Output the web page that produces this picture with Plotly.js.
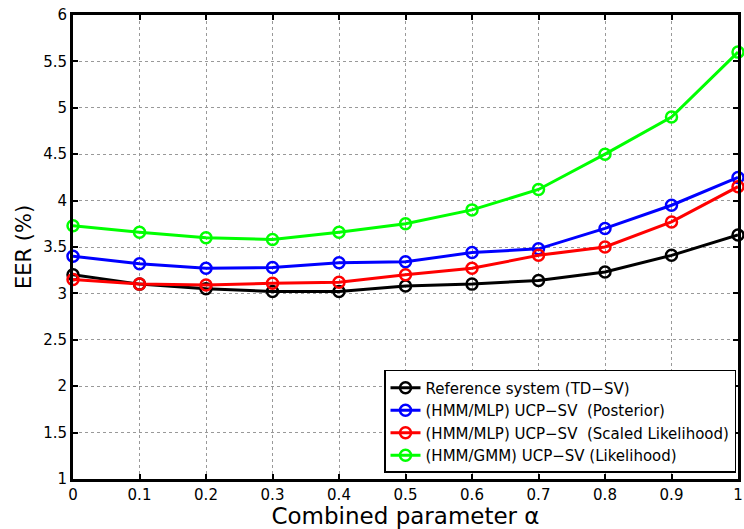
<!DOCTYPE html>
<html>
<head>
<meta charset="utf-8">
<script src="https://cdn.plot.ly/plotly-3.0.1.min.js"></script>
<style>html,body{margin:0;padding:0;background:#fff}#chart{width:744px;height:529px}</style>
</head>
<body>
<div id="chart"></div>
<script>
const alpha = [0, 0.1, 0.2, 0.3, 0.4, 0.5, 0.6, 0.7, 0.8, 0.9, 1.0];
const tickLabelsX = ["0","0.1","0.2","0.3","0.4","0.5","0.6","0.7","0.8","0.9","1"];
const tickValsY = [1, 1.5, 2, 2.5, 3, 3.5, 4, 4.5, 5, 5.5, 6];
const tickLabelsY = ["1","1.5","2","2.5","3","3.5","4","4.5","5","5.5","6"];

const refTDSV      = [3.20, 3.10, 3.05, 3.02, 3.02, 3.08, 3.10, 3.14, 3.23, 3.41, 3.63];
const mlpPosterior = [3.40, 3.32, 3.27, 3.28, 3.33, 3.34, 3.44, 3.48, 3.70, 3.95, 4.25];
const mlpScaled    = [3.15, 3.10, 3.09, 3.11, 3.12, 3.20, 3.27, 3.41, 3.50, 3.77, 4.15];
const gmmLikelihood= [3.73, 3.66, 3.60, 3.58, 3.66, 3.75, 3.90, 4.12, 4.50, 4.90, 5.60];

const names = [
  "Reference system (TD\u2212SV)",
  "(HMM/MLP) UCP\u2212SV  (Posterior)",
  "(HMM/MLP) UCP\u2212SV  (Scaled Likelihood)",
  "(HMM/GMM) UCP\u2212SV (Likelihood)"
];
const colors = ["#000000", "#0000ff", "#ff0000", "#00ff00"];
const series = [refTDSV, mlpPosterior, mlpScaled, gmmLikelihood];

const traces = series.map((ys, i) => ({
  x: alpha, y: ys, name: names[i],
  type: "scatter", mode: "lines+markers",
  line: {color: colors[i], width: 3},
  marker: {symbol: "circle-open", size: 11, color: colors[i], line: {width: 2.5, color: colors[i]}},
  cliponaxis: false
}));

const FONT = "DejaVu Sans, Liberation Sans, Arial, sans-serif";

const axisCommon = {
  showline: true, linecolor: "#000", linewidth: 3, mirror: "ticks",
  ticks: "inside", ticklen: 5, tickwidth: 2, tickcolor: "#000",
  showgrid: true, gridcolor: "#999", gridwidth: 1, griddash: "dot",
  zeroline: false, ticklabeloverflow: "allow",
  tickfont: {family: FONT, size: 15, color: "#000"}
};

const layout = {
  width: 744, height: 529,
  margin: {l: 73, r: 6, t: 15, b: 50},
  paper_bgcolor: "#fff", plot_bgcolor: "#fff",
  showlegend: true,
  font: {family: FONT, color: "#000"},
  xaxis: Object.assign({}, axisCommon, {
    range: [0, 1], tickvals: alpha, ticktext: tickLabelsX,
    title: {text: "Combined parameter \u03b1", font: {size: 23}, standoff: 1}
  }),
  yaxis: Object.assign({}, axisCommon, {
    range: [1, 6], tickvals: tickValsY, ticktext: tickLabelsY,
    title: {text: "EER (%)", font: {size: 21}, standoff: 6}
  }),
  legend: {
    x: 0.997, xanchor: "right", y: 0.013, yanchor: "bottom",
    bgcolor: "#fff", bordercolor: "#000", borderwidth: 1.5,
    font: {family: FONT, size: 15, color: "#000"},
    tracegroupgap: 0, itemwidth: 30
  }
};

Plotly.newPlot("chart", traces, layout, {displayModeBar: false, staticPlot: true});
</script>
</body>
</html>
